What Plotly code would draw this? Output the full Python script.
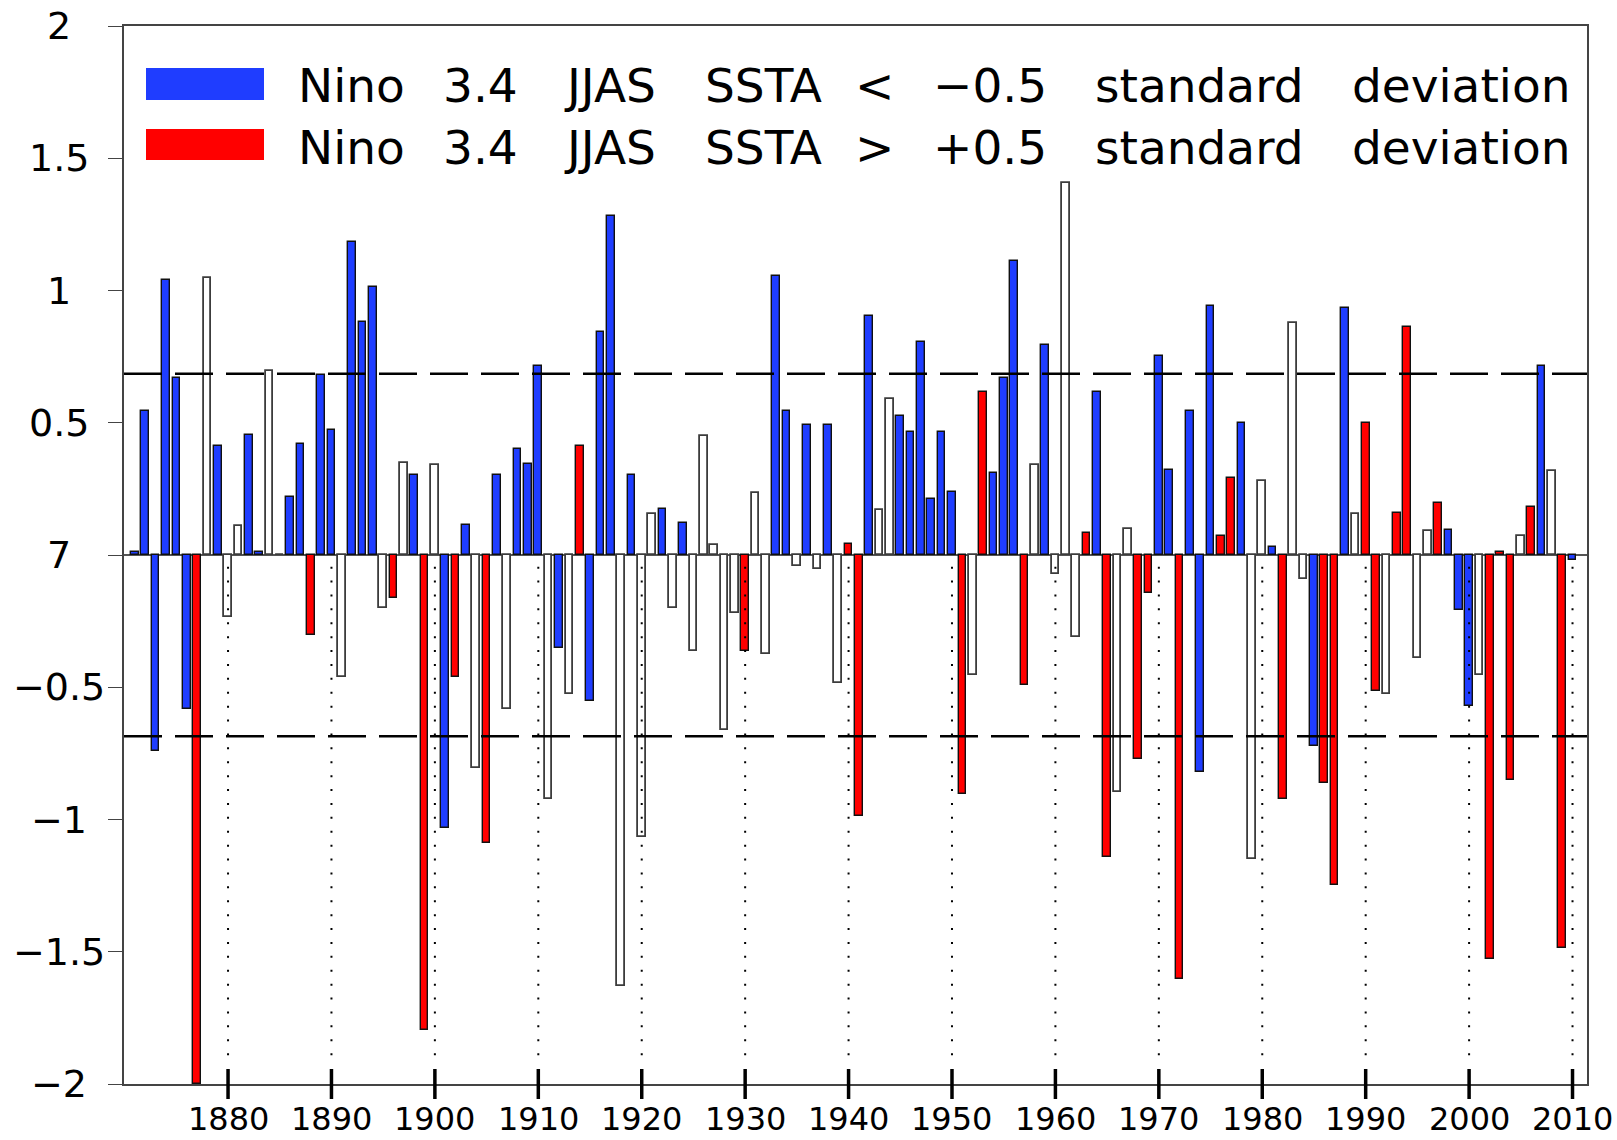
import plotly.graph_objects as go

# ---------------------------------------------------------------------------
# Data: JJAS index by year and the Nino 3.4 phase of each year
#   "L" -> Nino 3.4 JJAS SSTA < -0.5 sd (blue), "E" -> > +0.5 sd (red), "N" -> neutral
# ---------------------------------------------------------------------------
years = list(range(1871, 2011))

values = [
    0.013, 0.544, -0.741, 1.041, 0.671, -0.582, -2.0, 1.048, 0.411, -0.234,      # 1871-1880
    0.111, 0.454, 0.012, 0.697, 0.0, 0.22, 0.421, -0.301, 0.681, 0.471,          # 1881-1890
    -0.462, 1.184, 0.881, 1.014, -0.201, -0.164, 0.349, 0.301, -1.794, 0.34,     # 1891-1900
    -1.032, -0.462, 0.113, -0.805, -1.087, 0.301, -0.582, 0.402, 0.344, 0.713,   # 1901-1910
    -0.923, -0.353, -0.524, 0.411, -0.553, 0.843, 1.283, -1.628, 0.301, -1.067,  # 1911-1920
    0.154, 0.174, -0.201, 0.122, -0.363, 0.45, 0.038, -0.661, -0.22, -0.363,     # 1921-1930
    0.236, -0.373, 1.053, 0.544, -0.043, 0.493, -0.053, 0.493, -0.483, 0.042,    # 1931-1940
    -0.987, 0.904, 0.171, 0.589, 0.524, 0.464, 0.805, 0.212, 0.464, 0.239,       # 1941-1950
    -0.903, -0.453, 0.615, 0.309, 0.671, 1.112, -0.492, 0.34, 0.795, -0.072,     # 1951-1960
    1.407, -0.31, 0.084, 0.615, -1.142, -0.896, 0.1, -0.771, -0.142, 0.751,      # 1961-1970
    0.32, -1.603, 0.544, -0.822, 0.943, 0.072, 0.292, 0.5, -1.149, 0.279,        # 1971-1980
    0.031, -0.923, 0.876, -0.091, -0.722, -0.861, -1.246, 0.933, 0.154, 0.5,     # 1981-1990
    -0.515, -0.524, 0.158, 0.862, -0.391, 0.092, 0.195, 0.094, -0.208, -0.572,   # 1991-2000
    -0.453, -1.528, 0.013, -0.852, 0.072, 0.182, 0.714, 0.317, -1.485, -0.019,   # 2001-2010
]

phases = (
    "LLLLLLENLN"  # 1871-1880
    "NLLNNLLELL"  # 1881-1890
    "NLLLNENLEN"  # 1891-1900
    "LELNELNLLL"  # 1901-1910
    "NLNELLLNLN"  # 1911-1920
    "NLNLNNNNNE"  # 1921-1930
    "NNLLNLNLNE"  # 1931-1940
    "ELNNLLLLLL"  # 1941-1950
    "ENELLLENLN"  # 1951-1960
    "NNELENNEEL"  # 1961-1970
    "LELLLEELNN"  # 1971-1980
    "LENNLEELNE"  # 1981-1990
    "ENEENNELLL"  # 1991-2000
    "NEEENELNEL"  # 2001-2010
)

threshold = 0.685

decade_ticks = [1880, 1890, 1900, 1910, 1920, 1930, 1940, 1950, 1960, 1970, 1980, 1990, 2000, 2010]
decade_labels = ["1880", "1890", "1900", "1910", "1920", "1930", "1940", "1950", "1960",
                 "1970", "1980", "1990", "2000", "2010"]

y_tick_values = [2, 1.5, 1, 0.5, 0, -0.5, -1, -1.5, -2]
y_tick_labels = ["2", "1.5", "1", "0.5", "7", "\u22120.5", "\u22121", "\u22121.5", "\u22122"]

legend_lines = [
    ["Nino", "3.4", "JJAS", "SSTA", "<", "\u22120.5", "standard", "deviation"],
    ["Nino", "3.4", "JJAS", "SSTA", ">", "+0.5", "standard", "deviation"],
]

# ---------------------------------------------------------------------------
# Styling / geometry
# ---------------------------------------------------------------------------
W, H = 1617, 1140
M_L, M_R, M_T, M_B = 124, 30, 26, 56
PW = W - M_L - M_R
PH = H - M_T - M_B

BLUE = "#1f3dff"
RED = "#ff0000"
FONT = "DejaVu Sans"


def px_x(px):
    return (px - M_L) / PW


def px_y(py):
    return (H - M_B - py) / PH


fig = go.Figure()

styles = {
    "L": dict(color=BLUE, line=dict(color="#101010", width=1.4)),
    "E": dict(color=RED, line=dict(color="#101010", width=1.4)),
    "N": dict(color="white", line=dict(color="#3c3c3c", width=1.8)),
}
for key in ["N", "L", "E"]:
    xs = [y for y, p in zip(years, phases) if p == key]
    vs = [v for v, p in zip(values, phases) if p == key]
    fig.add_trace(go.Bar(x=xs, y=vs, width=0.74, marker=styles[key],
                         showlegend=False, hoverinfo="x+y"))

shapes = []
# +/- threshold dashed lines
for t in (threshold, -threshold):
    shapes.append(dict(type="line", xref="paper", yref="y", x0=0, x1=1, y0=t, y1=t,
                       line=dict(color="black", width=2.5, dash="38px,13px"), layer="above"))
# dotted decade guides below zero
for d in decade_ticks:
    shapes.append(dict(type="line", xref="x", yref="y", x0=d, x1=d, y0=-0.044, y1=-1.93,
                       line=dict(color="black", width=2, dash="2px,11.9px"), layer="above"))
# bold decade tick marks crossing the bottom axis
for d in decade_ticks:
    shapes.append(dict(type="line", xref="x", yref="paper", x0=d, x1=d,
                       y0=-15 / PH, y1=15 / PH,
                       line=dict(color="black", width=3.5), layer="above"))
# legend swatches
shapes.append(dict(type="rect", xref="paper", yref="paper",
                   x0=px_x(146), x1=px_x(264), y0=px_y(100), y1=px_y(68),
                   fillcolor=BLUE, line=dict(width=0), layer="above"))
shapes.append(dict(type="rect", xref="paper", yref="paper",
                   x0=px_x(146), x1=px_x(264), y0=px_y(160), y1=px_y(129),
                   fillcolor=RED, line=dict(width=0), layer="above"))

annotations = []
for v, lab in zip(y_tick_values, y_tick_labels):
    annotations.append(dict(text=lab, xref="paper", yref="y", x=px_x(59), y=v,
                            xanchor="center", yanchor="middle", showarrow=False,
                            font=dict(family=FONT, size=38, color="black")))
for d, lab in zip(decade_ticks, decade_labels):
    annotations.append(dict(text=lab, xref="x", yref="paper", x=d, y=px_y(1139),
                            xanchor="center", yanchor="bottom", showarrow=False,
                            borderpad=0,
                            font=dict(family=FONT, size=32, color="black")))

word_centers = [351, 480, 609.6, 763, 874.5, 990, 1199, 1460.5]
line_centers = [86, 147]
for words, cy in zip(legend_lines, line_centers):
    for w, cx in zip(words, word_centers):
        annotations.append(dict(text=w, xref="paper", yref="paper", x=px_x(cx), y=px_y(cy),
                                xanchor="center", yanchor="middle", showarrow=False,
                                font=dict(family=FONT, size=47, color="black")))

fig.update_layout(
    width=W, height=H, autosize=False,
    margin=dict(l=M_L, r=M_R, t=M_T, b=M_B, pad=0),
    plot_bgcolor="white", paper_bgcolor="white",
    barmode="overlay", bargap=0,
    shapes=shapes, annotations=annotations,
    xaxis=dict(range=[1869.94, 2011.4], showgrid=False, zeroline=False,
               showline=True, mirror=True, linecolor="#444", linewidth=1.5,
               ticks="", showticklabels=False),
    yaxis=dict(range=[-2, 2], tickvals=y_tick_values, ticks="outside", ticklen=14,
               tickwidth=1.2, tickcolor="#444", showticklabels=False, showgrid=False,
               zeroline=True, zerolinecolor="#555", zerolinewidth=2,
               showline=True, mirror=True, linecolor="#444", linewidth=1.5),
)

fig.write_html("out.html")
